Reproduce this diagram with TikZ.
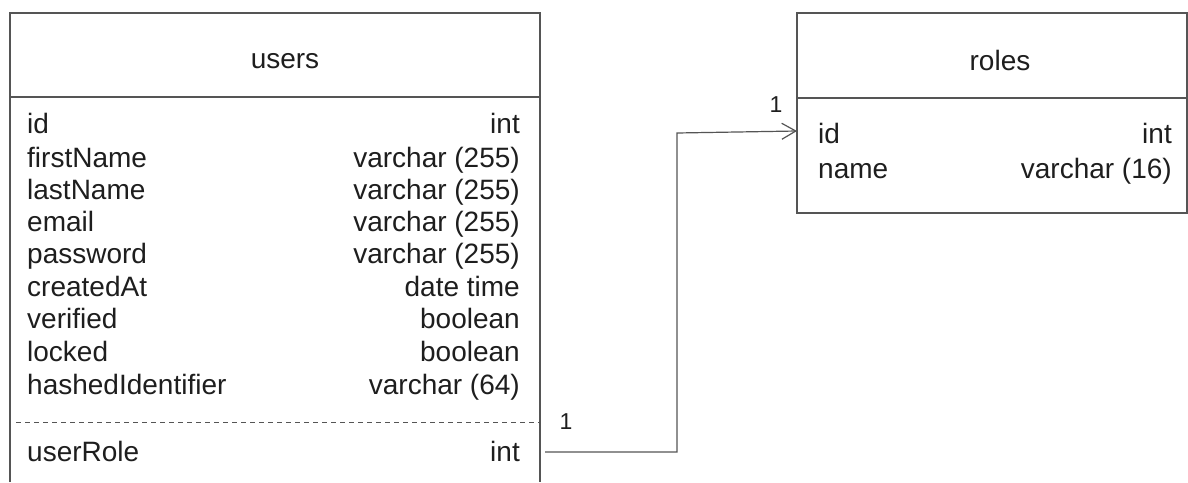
\documentclass[tikz,border=0pt]{standalone}
\usepackage{fontspec}
\setmainfont{Liberation Sans}
\usetikzlibrary{arrows.meta}
\definecolor{ln}{HTML}{555555}
\definecolor{tx}{HTML}{1E1E1E}
\tikzset{
  edge/.style={draw=ln, line width=1.2pt},
  fld/.style={anchor=base west, inner sep=0pt, text=tx, font=\fontsize{28}{32}\selectfont},
  typ/.style={anchor=base east, inner sep=0pt, text=tx, font=\fontsize{28}{32}\selectfont},
  ttl/.style={anchor=base, inner sep=0pt, text=tx, font=\fontsize{28}{32}\selectfont},
  card/.style={anchor=base, inner sep=0pt, text=tx, font=\fontsize{23}{26}\selectfont}
}
\begin{document}
\begin{tikzpicture}[x=1pt,y=-1pt]
\useasboundingbox[fill=white] (0,0) rectangle (1188,482);
% users box
\draw[edge] (10,482) -- (10,13) -- (540,13) -- (540,482);
\draw[edge] (10,97) -- (540,97);
\draw[draw=ln, line width=0.9pt, dash pattern=on 5pt off 4pt] (16,422) -- (540,422);
\node[ttl] (ut) at (285,68) {users};
\foreach \n/\f/\t/\y in {a/id/int/133, b/firstName/varchar (255)/167, c/lastName/varchar (255)/199, d/email/varchar (255)/231, e/password/varchar (255)/263, f/createdAt/date time/296, g/verified/boolean/328, h/locked/boolean/361, i/hashedIdentifier/varchar (64)/394, j/userRole/int/461} {
  \node[fld] (uf\n) at (27,\y) {\f};
  \node[typ] (ut\n) at (520,\y) {\t};
}
% roles box
\draw[edge] (797,13) rectangle (1187,213);
\draw[edge] (797,98) -- (1187,98);
\node[ttl] (rt) at (1000,70) {roles};
\node[fld] (rfa) at (818,143) {id};
\node[typ] (rta) at (1172,143) {int};
\node[fld] (rfb) at (818,178) {name};
\node[typ] (rtb) at (1172,178) {varchar (16)};
% connector
\coordinate (s) at (545,452);
\coordinate (t) at (797,131);
\draw[edge, -{Straight Barb[length=14pt,width=16pt]}] (s) -- (677,452) -- (677,133) -- (t);
\node[card] (c1) at (566,429) {1};
\node[card] (c2) at (776,112) {1};
\end{tikzpicture}
\end{document}
